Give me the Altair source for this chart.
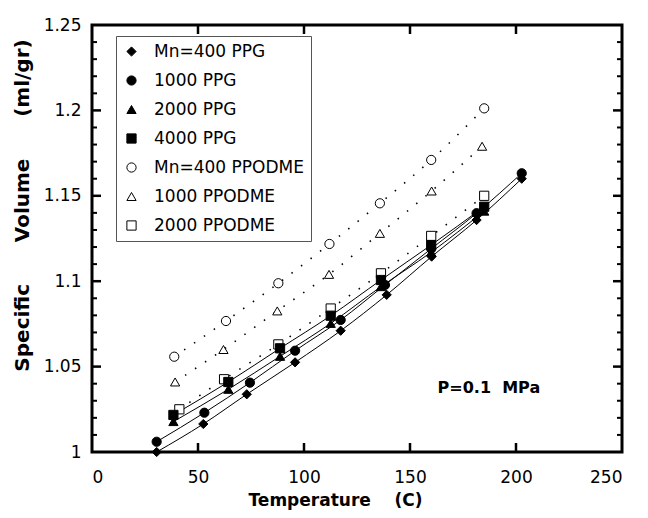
import altair as alt
import pandas as pd

# ---------------- data ----------------
series_names = ["Mn=400 PPG", "1000 PPG", "2000 PPG", "4000 PPG",
                "Mn=400 PPODME", "1000 PPODME", "2000 PPODME"]
series_group = ["PPG", "PPG", "PPG", "PPG", "PPODME", "PPODME", "PPODME"]
series_shapes = ["diamond", "circle", "triangle-up", "square",
                 "circle", "triangle-up", "square"]
series_fills = ["black", "black", "black", "black", "white", "white", "white"]
series_strokes = ["black"] * 7

t_ppg400 = [30.5, 52.5, 73.0, 95.8, 117.3, 139.0, 160.2, 181.4, 202.7]
v_ppg400 = [1.000, 1.0164, 1.0338, 1.0525, 1.071, 1.092, 1.1144, 1.1358, 1.160]

t_ppg1000 = [30.5, 53.0, 74.5, 95.8, 117.3, 138.2, 160.0, 181.4, 202.7]
v_ppg1000 = [1.006, 1.023, 1.0406, 1.0593, 1.0773, 1.0978, 1.119, 1.1398, 1.1632]

t_ppg2000 = [38.4, 64.3, 88.7, 112.6, 136.3, 160.0, 185.0]
v_ppg2000 = [1.0178, 1.0367, 1.056, 1.0753, 1.0968, 1.117, 1.141]

t_ppg4000 = [38.4, 64.3, 88.7, 112.6, 136.3, 160.0, 185.0]
v_ppg4000 = [1.0217, 1.041, 1.0607, 1.0798, 1.1007, 1.1212, 1.1436]

t_ppodme400 = [38.8, 63.2, 87.9, 112.0, 135.8, 160.0, 185.0]
v_ppodme400 = [1.0558, 1.0767, 1.0988, 1.1218, 1.1456, 1.171, 1.2012]

t_ppodme1000 = [39.2, 62.0, 87.4, 111.8, 135.8, 160.2, 184.0]
v_ppodme1000 = [1.041, 1.060, 1.0826, 1.104, 1.128, 1.1528, 1.179]

t_ppodme2000 = [41.2, 62.3, 87.9, 112.6, 136.3, 160.0, 185.0]
v_ppodme2000 = [1.025, 1.0426, 1.063, 1.084, 1.1046, 1.1265, 1.150]

x_tick_labels = [0, 50, 100, 150, 200, 250]
y_tick_labels = [1.0, 1.05, 1.1, 1.15, 1.2, 1.25]
x_major_ticks = [50, 100, 150, 200]
y_major_ticks = [1.05, 1.1, 1.15, 1.2]
y_minor_ticks = [1.01, 1.02, 1.03, 1.04, 1.06, 1.07, 1.08, 1.09,
                 1.11, 1.12, 1.13, 1.14, 1.16, 1.17, 1.18, 1.19,
                 1.21, 1.22, 1.23, 1.24]

annot_text = ["P=0.1\u00a0\u00a0MPa"]
annot_t = [163]
annot_v = [1.0375]

# ---------------- table ----------------
all_t = [t_ppg400, t_ppg1000, t_ppg2000, t_ppg4000, t_ppodme400, t_ppodme1000, t_ppodme2000]
all_v = [v_ppg400, v_ppg1000, v_ppg2000, v_ppg4000, v_ppodme400, v_ppodme1000, v_ppodme2000]
draw_order = [6, 5, 4, 0, 1, 2, 3]  # open symbols first, then filled ones on top
rows = []
for i in draw_order:
    for t, v in zip(all_t[i], all_v[i]):
        rows.append({"series": series_names[i], "group": series_group[i], "T": t, "V": v})
df = pd.DataFrame(rows)

W, H = 530, 427
FONT = "DejaVu Sans"

x_enc = alt.X("T:Q", scale=alt.Scale(domain=[0, 250], nice=False),
              axis=alt.Axis(values=x_tick_labels, format="d", domain=False, ticks=False, grid=False,
                            labelFont=FONT, labelFontSize=17, labelColor="black", labelPadding=17,
                            title="Temperature\u00a0\u00a0\u00a0\u00a0(C)", titleFont=FONT,
                            titleFontSize=17, titleFontWeight="bold", titleColor="black",
                            titlePadding=7, titleX=243))
y_enc = alt.Y("V:Q", scale=alt.Scale(domain=[1.0, 1.25], nice=False, zero=False),
              axis=alt.Axis(values=y_tick_labels, format="~g", domain=False, ticks=False, grid=False,
                            labelFont=FONT, labelFontSize=17, labelColor="black", labelPadding=11,
                            title="Specific" + "\u00a0" * 6 + "Volume" + "\u00a0" * 6 + "(ml/gr)",
                            titleFont=FONT, titleFontSize=20, titleFontWeight="bold",
                            titleColor="black", titleX=-70, titleY=180,
                            titleBaseline="middle", titleAlign="center"))

legend = alt.Legend(title=None, orient="none", legendX=24, legendY=11,
                    strokeColor="#555555", fillColor="white", padding=7,
                    labelFont=FONT, labelFontSize=17, labelColor="black",
                    symbolSize=85, symbolStrokeColor="black", symbolStrokeWidth=1,
                    symbolOpacity=1, rowPadding=11, labelOffset=14)

base = alt.Chart(df)

solid_lines = base.transform_filter(alt.datum.group == "PPG").mark_line(
    color="black", strokeWidth=1, interpolate="monotone"
).encode(x=x_enc, y=y_enc, detail="series:N", order="T:Q")

dotted_lines = base.transform_filter(alt.datum.group == "PPODME").mark_line(
    color="black", strokeWidth=1.6, strokeDash=[1.5, 10.5], interpolate="monotone"
).encode(x=x_enc, y=y_enc, detail="series:N", order="T:Q")

points = base.mark_point(filled=True, size=85, strokeWidth=1, opacity=1).encode(
    x=x_enc, y=y_enc,
    shape=alt.Shape("series:N", scale=alt.Scale(domain=series_names, range=series_shapes), legend=legend),
    fill=alt.Fill("series:N", scale=alt.Scale(domain=series_names, range=series_fills), legend=legend),
    stroke=alt.Stroke("series:N", scale=alt.Scale(domain=series_names, range=series_strokes), legend=legend),
)

annot = alt.Chart(pd.DataFrame({"T": annot_t, "V": annot_v, "label": annot_text})).mark_text(
    align="left", baseline="middle", font=FONT, fontWeight="bold", fontSize=16, color="black"
).encode(x=x_enc, y=y_enc, text="label:N")

# inward ticks on all four sides
ytM = alt.Chart(pd.DataFrame({"V": y_major_ticks}))
ytm = alt.Chart(pd.DataFrame({"V": y_minor_ticks}))
xtM = alt.Chart(pd.DataFrame({"T": x_major_ticks}))
tick_layers = [
    ytM.mark_rule(color="black", strokeWidth=2.5).encode(y=y_enc, x=alt.value(0), x2=alt.value(9)),
    ytM.mark_rule(color="black", strokeWidth=2.5).encode(y=y_enc, x=alt.value(W), x2=alt.value(W - 9)),
    ytm.mark_rule(color="black", strokeWidth=2).encode(y=y_enc, x=alt.value(0), x2=alt.value(5)),
    ytm.mark_rule(color="black", strokeWidth=2).encode(y=y_enc, x=alt.value(W), x2=alt.value(W - 5)),
    xtM.mark_rule(color="black", strokeWidth=2.5).encode(x=x_enc, y=alt.value(H), y2=alt.value(H - 9)),
    xtM.mark_rule(color="black", strokeWidth=2.5).encode(x=x_enc, y=alt.value(0), y2=alt.value(9)),
]

chart = alt.layer(*tick_layers, solid_lines, dotted_lines, points, annot).properties(
    width=W, height=H,
    autosize=alt.AutoSizeParams(type="none"),
    padding={"left": 84, "top": 17, "right": 18, "bottom": 64},
    background="white",
).configure_view(stroke="black", strokeWidth=3)

chart.save("out.html", embed_options={"renderer": "svg", "actions": False})
